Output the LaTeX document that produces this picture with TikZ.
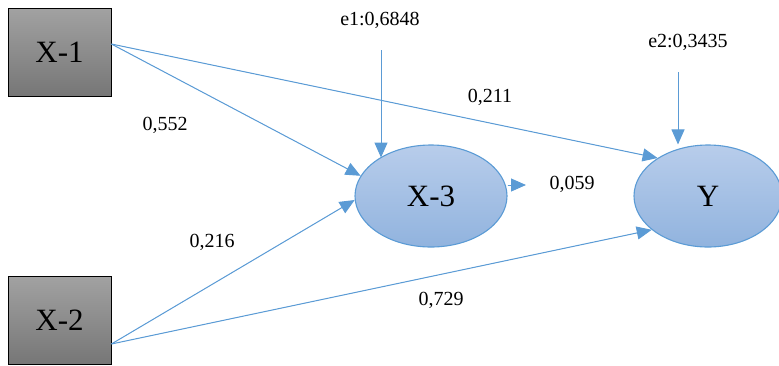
\documentclass[tikz,border=0pt]{standalone}
\usepackage{fontspec}
\setmainfont{Liberation Serif}
\usetikzlibrary{shapes.geometric, arrows.meta}
\definecolor{BoxTop}{RGB}{162,162,162}
\definecolor{BoxBot}{RGB}{118,118,118}
\definecolor{EllTop}{RGB}{184,205,235}
\definecolor{EllBot}{RGB}{145,179,222}
\definecolor{PathBlue}{RGB}{91,155,213}

\begin{document}
\begin{tikzpicture}[x=1pt, y=-1pt,
          obs/.style={rectangle, draw=black, line width=0.8pt, top color=BoxTop,
                      bottom color=BoxBot, minimum width=103pt, minimum height=88pt,
                      inner sep=0pt, font=\fontsize{31}{36}\selectfont},
          lat/.style={ellipse, draw=PathBlue, line width=1.1pt, top color=EllTop,
                      bottom color=EllBot, minimum width=152pt, minimum height=102pt,
                      inner sep=0pt, font=\fontsize{31}{36}\selectfont},
          arr/.style={-{Triangle[length=15pt, width=13pt]}, draw=PathBlue,
                      fill=PathBlue, line width=1pt},
          lbl/.style={font=\fontsize{20}{24}\selectfont}
        ]
        \useasboundingbox (0,0) rectangle (779,365);

        % Observed variables
        \node[obs] (x1) at (59.5,52) {X-1};
        \node[obs] (x2) at (59.5,320) {X-2};

        % Latent variables
        \node[lat] (x3) at (431,196) {X-3};
        \node[lat, minimum width=148pt] (y) at (708,196) {Y};

        % Error terms
        \node[lbl] (e1) at (380,20) {e1:0,6848};
        \node[lbl] (e2) at (688,42) {e2:0,3435};
        \coordinate (e1in) at (381,50);
        \coordinate (e2in) at (678,72);
        \draw[arr] (e1in) -- (e1in |- x3.143);
        \draw[arr] (e2in) -- (e2in |- y.north);

        % Paths
        \draw[arr] ([yshift=8pt]x1.east) -- (x3.164);
        \draw[arr] ([yshift=8pt]x1.east) -- (y.143);
        \draw[arr] ([yshift=-24pt]x2.east) -- (x3.183);
        \draw[arr] ([yshift=-24pt]x2.east) -- (y.211);
        \coordinate (x3out) at (526,185);
        \draw[arr] (x3.east |- x3out) -- (x3out);

        % Coefficients
        \node[lbl] (c13) at (165,125) {0,552};
        \node[lbl] (c1y) at (490,97) {0,211};
        \node[lbl] (c3y) at (572,184) {0,059};
        \node[lbl] (c23) at (212,242) {0,216};
        \node[lbl] (c2y) at (441,300) {0,729};
      \end{tikzpicture}
\end{document}
